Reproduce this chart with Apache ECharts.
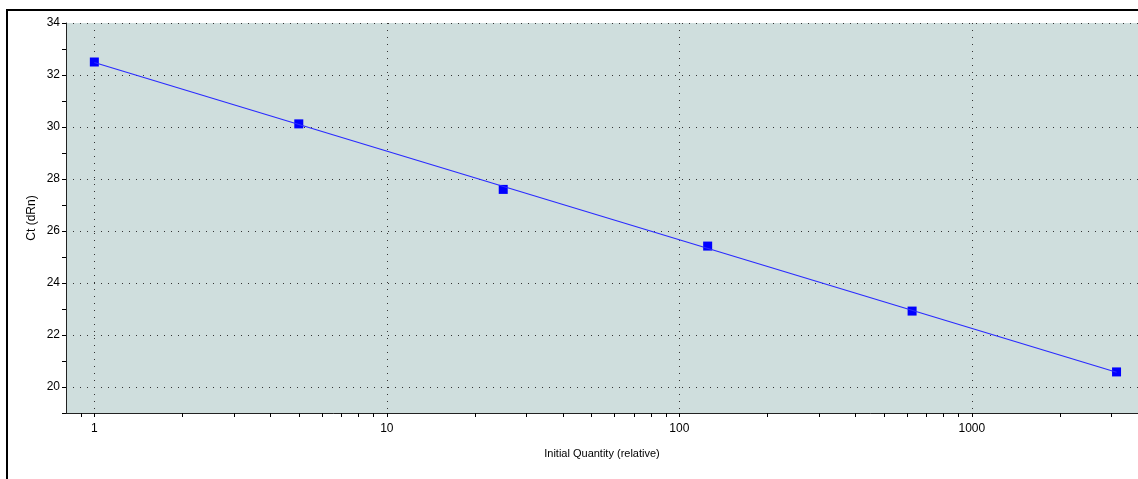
<!DOCTYPE html>
<html>
<head>
<meta charset="utf-8">
<title>Standard Curve</title>
<script src="https://cdn.jsdelivr.net/npm/echarts@6/dist/echarts.min.js"></script>
<style>
	html, body { margin: 0; padding: 0; background: #fff; }
	.ca1 { width: 1138px; height: 479px; }
</style>
</head>
<body>
<div class="ca1"></div>
<script>
var quantity = [1, 5, 25, 125, 625, 3125]
var ct = [32.5, 30.12, 27.6, 25.42, 22.92, 20.58]
var xTicks = [0.9, 1, 2, 3, 4, 5, 6, 7, 8, 9, 10, 20, 30, 40, 50, 60, 70, 80, 90,
	100, 200, 300, 400, 500, 600, 700, 800, 900, 1000, 2000, 3000]
var xLabels = [1, 10, 100, 1000]

// least squares fit of ct against log10(quantity)
function fitLine() {
	var n = quantity.length, sx = 0, sy = 0, sxx = 0, sxy = 0
	for (var i = 0; i < n; i++) {
		var lx = Math.log10(quantity[i])
		sx += lx; sy += ct[i]; sxx += lx * lx; sxy += lx * ct[i]
	}
	var b = (n * sxy - sx * sy) / (n * sxx - sx * sx)
	var a = (sy - b * sx) / n
	var x0 = quantity[0], x1 = quantity[n - 1]
	return [[x0, a + b * Math.log10(x0)], [x1, a + b * Math.log10(x1)]]
}

function renderCa1() {
	var myChart = echarts.init(document.querySelector('.ca1'))
	var grid = '#333'
	var xSplit = ['transparent', grid, 'transparent', 'transparent', 'transparent',
		'transparent', 'transparent', 'transparent', 'transparent']
	var o = {
		animation: false,
		textStyle: {
			fontFamily: 'Liberation Sans',
			color: '#000'
		},
		graphic: [{
			type: 'rect',
			shape: { x: 7, y: 10, width: 1300, height: 600 },
			style: { fill: 'none', stroke: '#000', lineWidth: 2 },
			z: 100
		}],
		grid: {
			left: 66,
			top: 23,
			right: 0,
			bottom: 66,
			show: true,
			backgroundColor: '#cfdedd',
			borderWidth: 0
		},
		xAxis: {
			type: 'log',
			logBase: 10,
			min: 0.8,
			max: 3700,
			name: 'Initial Quantity (relative)',
			nameLocation: 'middle',
			nameGap: 35,
			nameTextStyle: { fontSize: 11, color: '#000' },
			axisLine: { lineStyle: { color: '#222', width: 1 } },
			axisTick: {
				customValues: xTicks,
				length: 4,
				lineStyle: { color: '#000' }
			},
			axisLabel: {
				customValues: xLabels,
				fontSize: 12,
				color: '#000',
				margin: 10,
				formatter: function (v) { return String(v) }
			},
			splitLine: {
				show: true,
				lineStyle: { color: xSplit, type: [1, 6], width: 1 }
			},
			minorTick: { show: false }
		},
		yAxis: {
			type: 'value',
			min: 19,
			max: 34,
			interval: 1,
			name: 'Ct (dRn)',
			nameLocation: 'middle',
			nameGap: 28,
			nameMoveOverlap: false,
			nameTextStyle: { fontSize: 12, color: '#000' },
			axisLine: { show: true, lineStyle: { color: '#222', width: 1 } },
			axisTick: { length: 4, lineStyle: { color: '#000' } },
			axisLabel: {
				fontSize: 12,
				color: '#000',
				margin: 6,
				formatter: function (v) { return v % 2 === 0 ? v : '' }
			},
			splitLine: {
				show: true,
				lineStyle: { color: ['transparent', grid], type: [1, 6], width: 1 }
			}
		},
		series: [
			{
				name: 'fit',
				type: 'line',
				data: fitLine(),
				symbol: 'none',
				lineStyle: { color: '#2a2aff', width: 1.2 }
			},
			{
				name: 'standards',
				type: 'scatter',
				data: quantity.map(function (q, i) { return [q, ct[i]] }),
				symbol: 'rect',
				symbolSize: 9,
				itemStyle: { color: '#0000ff', opacity: 1 }
			}
		]
	}
	myChart.setOption(o)
}

renderCa1()
</script>
</body>
</html>
